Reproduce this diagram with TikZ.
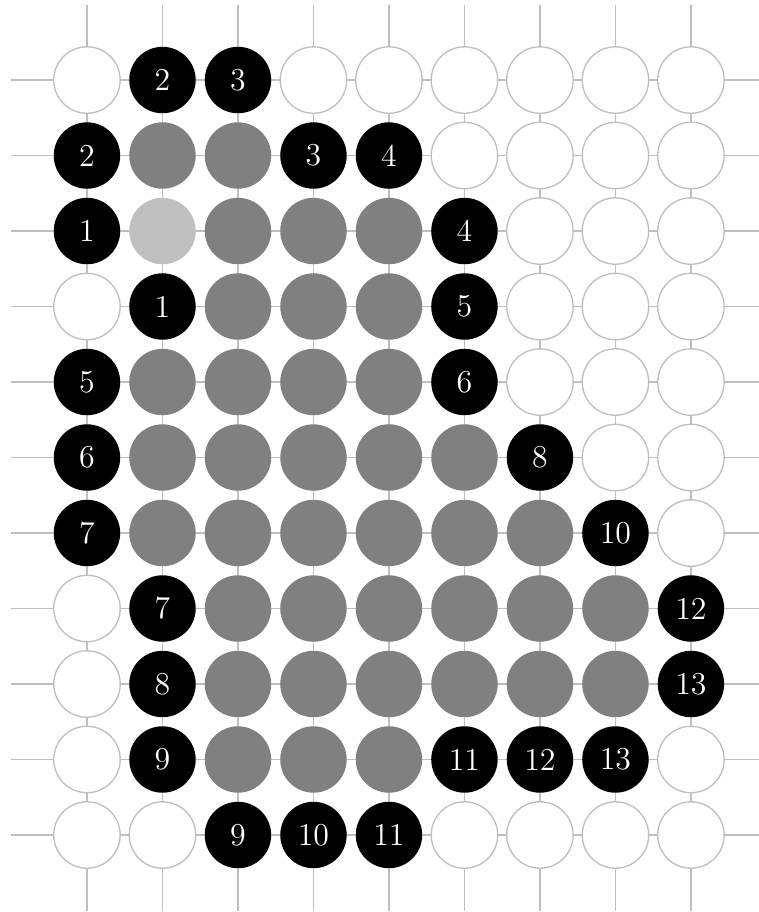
\documentclass[tikz,border=0pt]{standalone}
\usetikzlibrary{positioning}
\definecolor{gridgray}{gray}{0.75}
\tikzset{
  stone/.style={circle,minimum size=0.88cm,inner sep=0pt,outer sep=0pt},
  emptypt/.style={stone,draw=gridgray,fill=white,line width=0.5pt},
  blackst/.style={stone,fill=black,text=white,font=\large},
  grayst/.style={stone,fill=gray},
  lightst/.style={stone,fill=gridgray},
  gridline/.style={draw=gridgray,line width=0.5pt}
}
\begin{document}
\begin{tikzpicture}
\useasboundingbox (-1.152,1.060) rectangle (8.901,-11.02);
% grid
\foreach \c in {0,...,8} \draw[gridline] (\c,1) -- (\c,-11);
\foreach \r in {0,...,10} \draw[gridline] (-1,-\r) -- (9,-\r);
% empty points
\foreach \r/\cs in {0/{0,3,4,5,6,7,8},1/{5,6,7,8},2/{6,7,8},3/{0,6,7,8},4/{6,7,8},5/{7,8},6/{8},7/{0},8/{0},9/{0,8},10/{0,1,5,6,7,8}}
  \foreach \c in \cs \node[emptypt] (n-\c-\r) at (\c,-\r) {};
% gray stones
\foreach \r/\cs in {1/{1,2},2/{2,3,4},3/{2,3,4},4/{1,2,3,4},5/{1,2,3,4,5},6/{1,2,3,4,5,6},7/{2,3,4,5,6,7},8/{2,3,4,5,6,7},9/{2,3,4}}
  \foreach \c in \cs \node[grayst] (n-\c-\r) at (\c,-\r) {};
% light stone
\node[lightst] (n-1-2) at (1,-2) {};
% black numbered stones
\foreach \c/\r/\n in {1/0/2,2/0/3,0/1/2,3/1/3,4/1/4,0/2/1,5/2/4,1/3/1,5/3/5,0/4/5,5/4/6,0/5/6,6/5/8,0/6/7,7/6/10,1/7/7,8/7/12,1/8/8,8/8/13,1/9/9,5/9/11,6/9/12,7/9/13,2/10/9,3/10/10,4/10/11}
  \node[blackst] (n-\c-\r) at (\c,-\r) {\n};
\end{tikzpicture}
\end{document}
